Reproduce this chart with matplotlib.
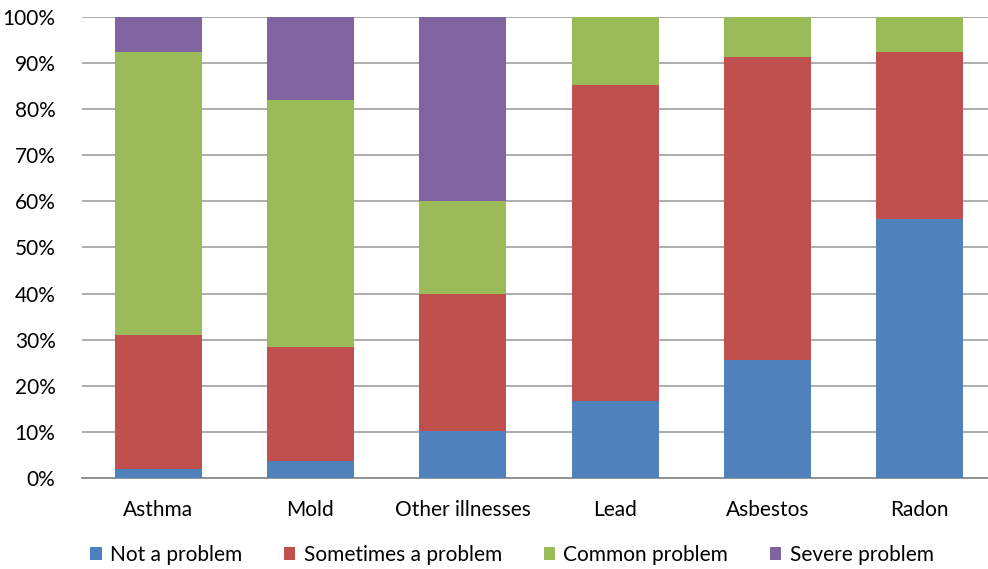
import matplotlib
matplotlib.use("Agg")
import matplotlib.pyplot as plt
import numpy as np

categories = ["Asthma", "Mold", "Other illnesses", "Lead", "Asbestos", "Radon"]
series_names = ["Not a problem", "Sometimes a problem", "Common problem", "Severe problem"]
not_a_problem = [2.0, 3.7, 10.1, 16.8, 25.7, 56.2]
sometimes = [29.0, 24.8, 29.9, 68.4, 65.6, 36.3]
common = [61.5, 53.6, 20.1, 14.8, 8.7, 7.5]
severe = [7.5, 17.9, 39.9, 0.0, 0.0, 0.0]
y_ticks = [0, 10, 20, 30, 40, 50, 60, 70, 80, 90, 100]
y_tick_labels = [f"{v}%" for v in y_ticks]

colors = ["#4F81BD", "#C0504D", "#9BBB59", "#8064A2"]

plt.rcParams['font.family'] = ['Lato', 'DejaVu Sans']

fig = plt.figure(figsize=(9.88, 5.69), dpi=100)
W, H = 988, 569
left_px, right_px, top_px, bottom_px = 82, 988, 17, 478
ax = fig.add_axes([left_px / W, (H - bottom_px) / H, (right_px - left_px) / W, (bottom_px - top_px) / H])

x = np.arange(len(categories))
bottom = np.zeros(len(categories))
for name, vals, c in zip(series_names, [not_a_problem, sometimes, common, severe], colors):
    ax.bar(x, vals, width=0.571, bottom=bottom, color=c, label=name, zorder=3)
    bottom += np.array(vals)

ax.set_ylim(0, 100)
ax.set_xlim(-0.5, -0.5 + (right_px - left_px) / 152.3)
ax.set_yticks(y_ticks)
ax.set_yticklabels(y_tick_labels)
ax.set_xticks(x)
ax.set_xticklabels(categories)
ax.tick_params(axis='both', length=0, labelsize=15, colors="#000000")
ax.tick_params(axis='y', pad=19)
ax.tick_params(axis='x', pad=16)
ax.yaxis.grid(True, color="#a6a6a6", linewidth=1.3, zorder=0)
for s in ["left", "right", "top"]:
    ax.spines[s].set_visible(False)
ax.spines["bottom"].set_color("#8c8c8c")
ax.spines["bottom"].set_linewidth(1.3)

fig.legend(loc="center", bbox_to_anchor=(512 / W, (H - 555) / H), ncol=4, frameon=False,
           fontsize=15, handlelength=0.55, handleheight=0.55, handletextpad=0.4, columnspacing=2.0)

fig.savefig("out.png", dpi=100)
